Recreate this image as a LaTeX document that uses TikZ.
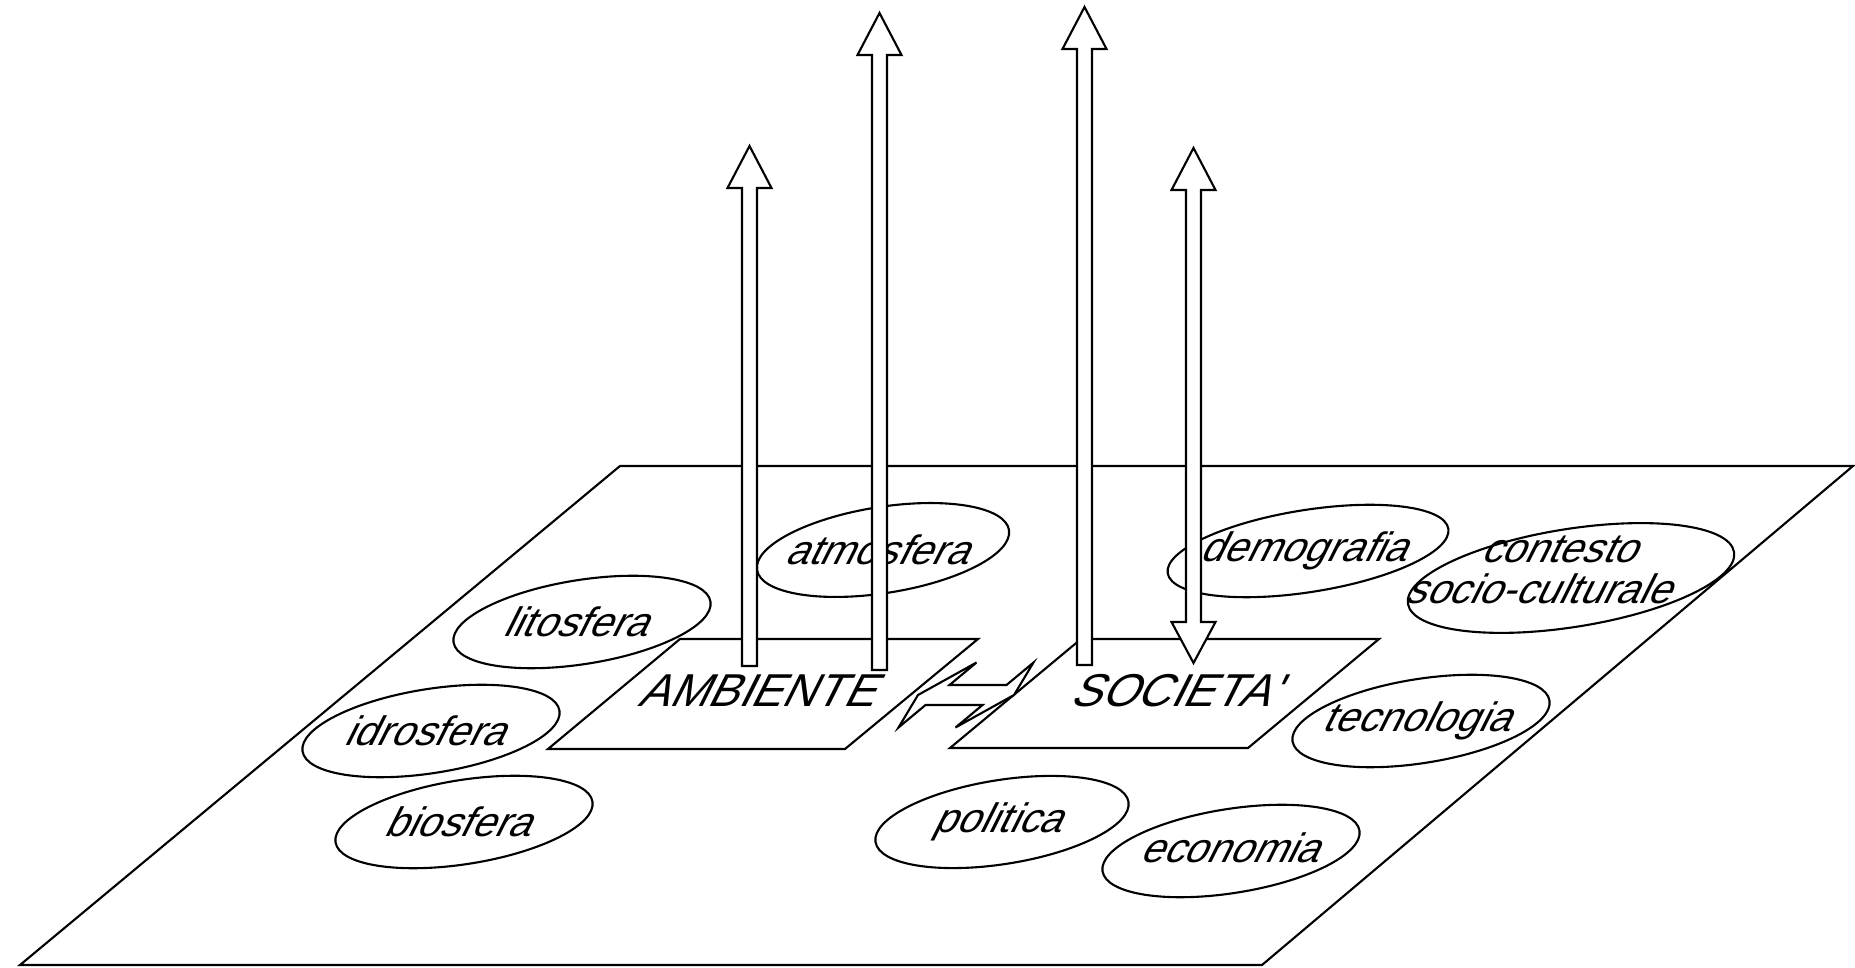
\documentclass[tikz,border=0pt]{standalone}
\usepackage{fontspec}
\setmainfont{Liberation Sans}
\usetikzlibrary{calc,shapes.geometric}

% hollow arrow pointing up, from base #1 to tip #2
\newcommand{\hollowup}[2]{%
  \draw[hollow] ($(#1)+(-7.5,0)$) -- ($(#2)+(-7.5,42)$) -- ($(#2)+(-22,42)$) -- (#2)
    -- ($(#2)+(22,42)$) -- ($(#2)+(7.5,42)$) -- ($(#1)+(7.5,0)$) -- cycle;}
% hollow arrow with a head at both ends, lower tip #1, upper tip #2
\newcommand{\hollowupdown}[2]{%
  \draw[hollow] (#1) -- ($(#1)+(-22,-41)$) -- ($(#1)+(-7.5,-41)$) -- ($(#2)+(-7.5,42)$)
    -- ($(#2)+(-22,42)$) -- (#2) -- ($(#2)+(22,42)$) -- ($(#2)+(7.5,42)$)
    -- ($(#1)+(7.5,-41)$) -- ($(#1)+(22,-41)$) -- cycle;}

\begin{document}
\begin{tikzpicture}[x=0.01cm, y=-0.01cm, line width=0.6pt,
  lbl/.style={font=\fontsize{11.7}{11.8}\selectfont, xslant=0.5, inner sep=0pt, align=center},
  bigtxt/.style={font=\fontsize{13.1}{15}\selectfont, xslant=0.5, inner sep=0pt},
  blob/.style={ellipse, draw, rotate=9, inner sep=0pt, minimum width=2.6cm, minimum height=0.84cm},
  hollow/.style={draw, fill=white, line join=miter}]
	\useasboundingbox (0,0) rectangle (1855,968);
	% ground plane and the two fields
	\draw (20,965) -- (1262,965) -- (1853,466) -- (620,466) -- cycle;
	\draw (548,749) -- (845,749) -- (978,639) -- (680,639) -- cycle;
	\draw (950,748) -- (1248,748) -- (1379,639) -- (1081,639) -- cycle;
	\node[bigtxt] (amb) at (763,691) {AMBIENTE};
	\node[bigtxt] (soc) at (1181,691) {SOCIETA\textquotesingle};
	% spheres
	\node[blob, minimum width=2.55cm, minimum height=0.86cm] (e-atmo) at (883,550) {};
	\node[blob] (e-lito) at (582,622) {};
	\node[blob] (e-idro) at (431,731) {};
	\node[blob] (e-bio) at (464,822) {};
	\node[lbl] (atmo) at (e-atmo) {atmosfera};
	\node[lbl] (lito) at (e-lito) {litosfera};
	\node[lbl] (idro) at (e-idro) {idrosfera};
	\node[lbl] (bio) at (e-bio) {biosfera};
	% society
	\node[blob, minimum width=2.84cm, minimum height=0.82cm] (e-demo) at (1308,551) {};
	\node[blob, minimum width=3.3cm, minimum height=0.98cm] (e-ctx) at (1571,578) {};
	\node[blob] (e-tecn) at (1421,721) {};
	\node[blob, minimum width=2.56cm] (e-poli) at (1002,822) {};
	\node[blob] (e-econ) at (1231,851) {};
	\node[lbl] (demo) at (e-demo) {demografia};
	\node[lbl] (ctx) at (1554,570) {contesto\\socio-culturale};
	\node[lbl] (tecn) at (e-tecn) {tecnologia};
	\node[lbl] (poli) at (e-poli) {politica};
	\node[lbl] (econ) at (1236,848) {economia};
	% exchange between the two fields
	\begin{scope}[shift={(966,695)}, xslant=1.2]
		\draw[hollow] (-48,0) -- (-28.5,-32.5) -- (-28.5,-10) -- (28.5,-10) -- (28.5,-32.5)
			-- (48,0) -- (28.5,32.5) -- (28.5,10) -- (-28.5,10) -- (-28.5,32.5) -- cycle;
	\end{scope}
	% vertical arrows
	\coordinate (up1 base) at (749.5,666);
	\coordinate (up1 tip) at (749.5,146);
	\coordinate (up2 base) at (879.5,670);
	\coordinate (up2 tip) at (879.5,13);
	\coordinate (up3 base) at (1084.5,665);
	\coordinate (up3 tip) at (1084.5,7);
	\coordinate (up4 low) at (1193.5,663);
	\coordinate (up4 tip) at (1193.5,148);
	\hollowup{up1 base}{up1 tip}
	\hollowup{up2 base}{up2 tip}
	\hollowup{up3 base}{up3 tip}
	\hollowupdown{up4 low}{up4 tip}
\end{tikzpicture}
\end{document}
